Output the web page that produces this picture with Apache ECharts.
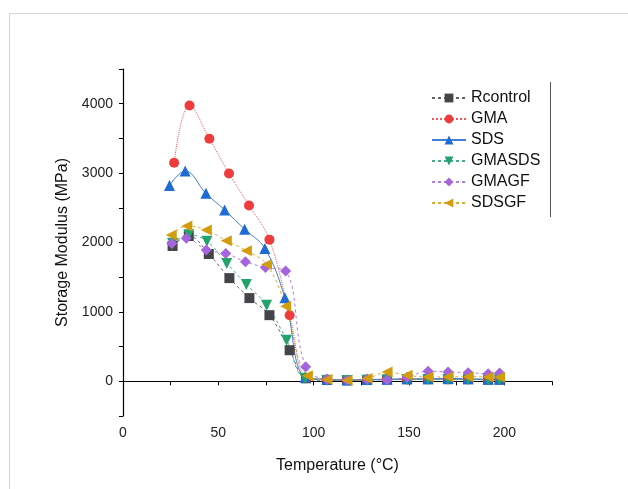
<!DOCTYPE html>
<html>
<head>
<meta charset="utf-8">
<title>Storage Modulus</title>
<script src="https://cdn.jsdelivr.net/npm/echarts@6/dist/echarts.min.js"></script>
<style>
  html, body { margin: 0; padding: 0; background: #fff; }
  #chart { width: 628px; height: 489px; }
</style>
</head>
<body>
<div id="chart"></div>
<script>
// temperatures (°C) for each sample
const tempRcontrol = [26, 34.5, 45, 55.8, 66.3, 76.8, 87.4, 96, 107, 117.5, 128, 138.5, 149, 160, 170.5, 181, 191.5, 197.5];
const tempGMA      = [26.8, 34.9, 45.3, 55.6, 66.1, 76.8, 87.4, 96.5, 107, 117.5, 128, 138.5, 149, 160, 170.5, 181, 191.5, 197.5];
const tempSDS      = [24.4, 32.6, 43.5, 53.3, 63.8, 74.4, 84.9, 95.5, 107, 117.5, 128, 138.5, 149, 160, 170.5, 181, 191.5, 197.5];
const tempGMASDS   = [26, 34.5, 44, 54.4, 64.7, 75.3, 85.8, 95.5, 107, 117.5, 128, 138.5, 149, 160, 170.5, 181, 191.5, 197.5];
const tempGMAGF    = [25.6, 33.2, 43.7, 53.9, 64.2, 74.7, 85.3, 95.8, 107, 117.5, 128, 138.5, 149, 160, 170.5, 181, 191.5, 197.5];
const tempSDSGF    = [25.3, 33.5, 43.7, 54.2, 64.7, 75.3, 85.3, 96.7, 107, 117.5, 128, 138.5, 149, 160, 170.5, 181, 191.5, 197.5];

// storage modulus (MPa)
const modRcontrol = [1950, 2094, 1834, 1487, 1199, 953, 448, 43, 20, 15, 20, 25, 30, 30, 30, 30, 25, 25];
const modGMA      = [3148, 3975, 3495, 2994, 2532, 2041, 953, 50, 25, 20, 25, 30, 30, 35, 35, 30, 30, 30];
const modSDS      = [2820, 3032, 2709, 2469, 2190, 1915, 1203, 60, 30, 20, 25, 30, 35, 35, 40, 35, 30, 30];
const modGMASDS   = [1990, 2110, 2017, 1699, 1396, 1097, 592, 40, 10, 10, 15, 20, 25, 25, 25, 25, 20, 20];
const modGMAGF    = [1987, 2061, 1892, 1843, 1723, 1641, 1588, 210, 30, 20, 30, 20, 60, 145, 134, 125, 110, 120];
const modSDSGF    = [2108, 2238, 2181, 2026, 1882, 1684, 1083, 80, 25, 15, 40, 134, 87, 62, 62, 67, 62, 57];

const xTicks = [0, 50, 100, 150, 200];
const yTicks = [0, 1000, 2000, 3000, 4000];

const pairs = (xs, ys) => xs.map((x, i) => [x, ys[i]]);

const makeSeries = (name, xs, ys, color, symbol, rotate, lineType, size) => {
  return {
    name: name,
    type: 'line',
    data: pairs(xs, ys),
    smooth: 0.4,
    symbol: symbol,
    symbolRotate: rotate,
    symbolSize: size,
    itemStyle: { color: color },
    lineStyle: { color: color, width: 1, type: lineType, opacity: 0.85 },
  };
};

const getOption = () => {
  return {
    animation: false,
    backgroundColor: '#fff',
    textStyle: { fontFamily: 'Liberation Sans, Arial, sans-serif' },
    grid: { left: 123, right: 76, top: 69, bottom: 73 },
    legend: {
      left: 426,
      top: 85,
      orient: 'vertical',
      itemWidth: 34,
      itemHeight: 11,
      itemGap: 5,
      textStyle: { fontSize: 16, color: '#111', lineHeight: 16 },
    },
    xAxis: {
      type: 'value',
      min: 0,
      max: 225,
      interval: 25,
      name: 'Temperature (°C)',
      nameLocation: 'middle',
      nameGap: 42,
      nameTextStyle: { fontSize: 16, color: '#111' },
      axisLine: { lineStyle: { color: '#000', width: 1.2 } },
      axisTick: { inside: false, length: 4, lineStyle: { color: '#000' } },
      axisLabel: {
        fontSize: 14,
        color: '#222',
        margin: 10,
        formatter: (v) => xTicks.includes(v) ? String(v) : '',
      },
      splitLine: { show: false },
    },
    yAxis: {
      type: 'value',
      min: -500,
      max: 4500,
      interval: 500,
      name: 'Storage Modulus (MPa)',
      nameLocation: 'middle',
      nameGap: 46,
      nameTextStyle: { fontSize: 16, color: '#111' },
      axisLine: { show: true, lineStyle: { color: '#000', width: 1.2 } },
      axisTick: { show: true, inside: false, length: 4, lineStyle: { color: '#000' } },
      axisLabel: {
        fontSize: 14,
        color: '#222',
        margin: 10,
        formatter: (v) => yTicks.includes(v) ? String(v) : '',
      },
      splitLine: { show: false },
    },
    graphic: [
      {
        type: 'rect',
        shape: { x: 9.5, y: 13.5, width: 700, height: 600 },
        style: { fill: 'none', stroke: '#d6d6d6', lineWidth: 1 },
        silent: true,
      },
      {
        type: 'line',
        shape: { x1: 550.5, y1: 82, x2: 550.5, y2: 217 },
        style: { stroke: '#555', lineWidth: 1 },
        silent: true,
      },
    ],
    series: [
      makeSeries('Rcontrol', tempRcontrol, modRcontrol, '#454549', 'rect', 0, [3, 3], 10),
      makeSeries('GMA', tempGMA, modGMA, '#ee3b3b', 'circle', 0, 'dotted', 10),
      makeSeries('SDS', tempSDS, modSDS, '#1f6ad4', 'triangle', 0, 'solid', 11),
      makeSeries('GMASDS', tempGMASDS, modGMASDS, '#23a26b', 'triangle', 180, [3, 3], 11),
      makeSeries('GMAGF', tempGMAGF, modGMAGF, '#a464dc', 'diamond', 0, [3, 3], 11),
      makeSeries('SDSGF', tempSDSGF, modSDSGF, '#d29c0c', 'triangle', 90, [3, 3], 11),
    ],
  };
};

const chart = echarts.init(document.getElementById('chart'));
chart.setOption(getOption());
</script>
</body>
</html>
